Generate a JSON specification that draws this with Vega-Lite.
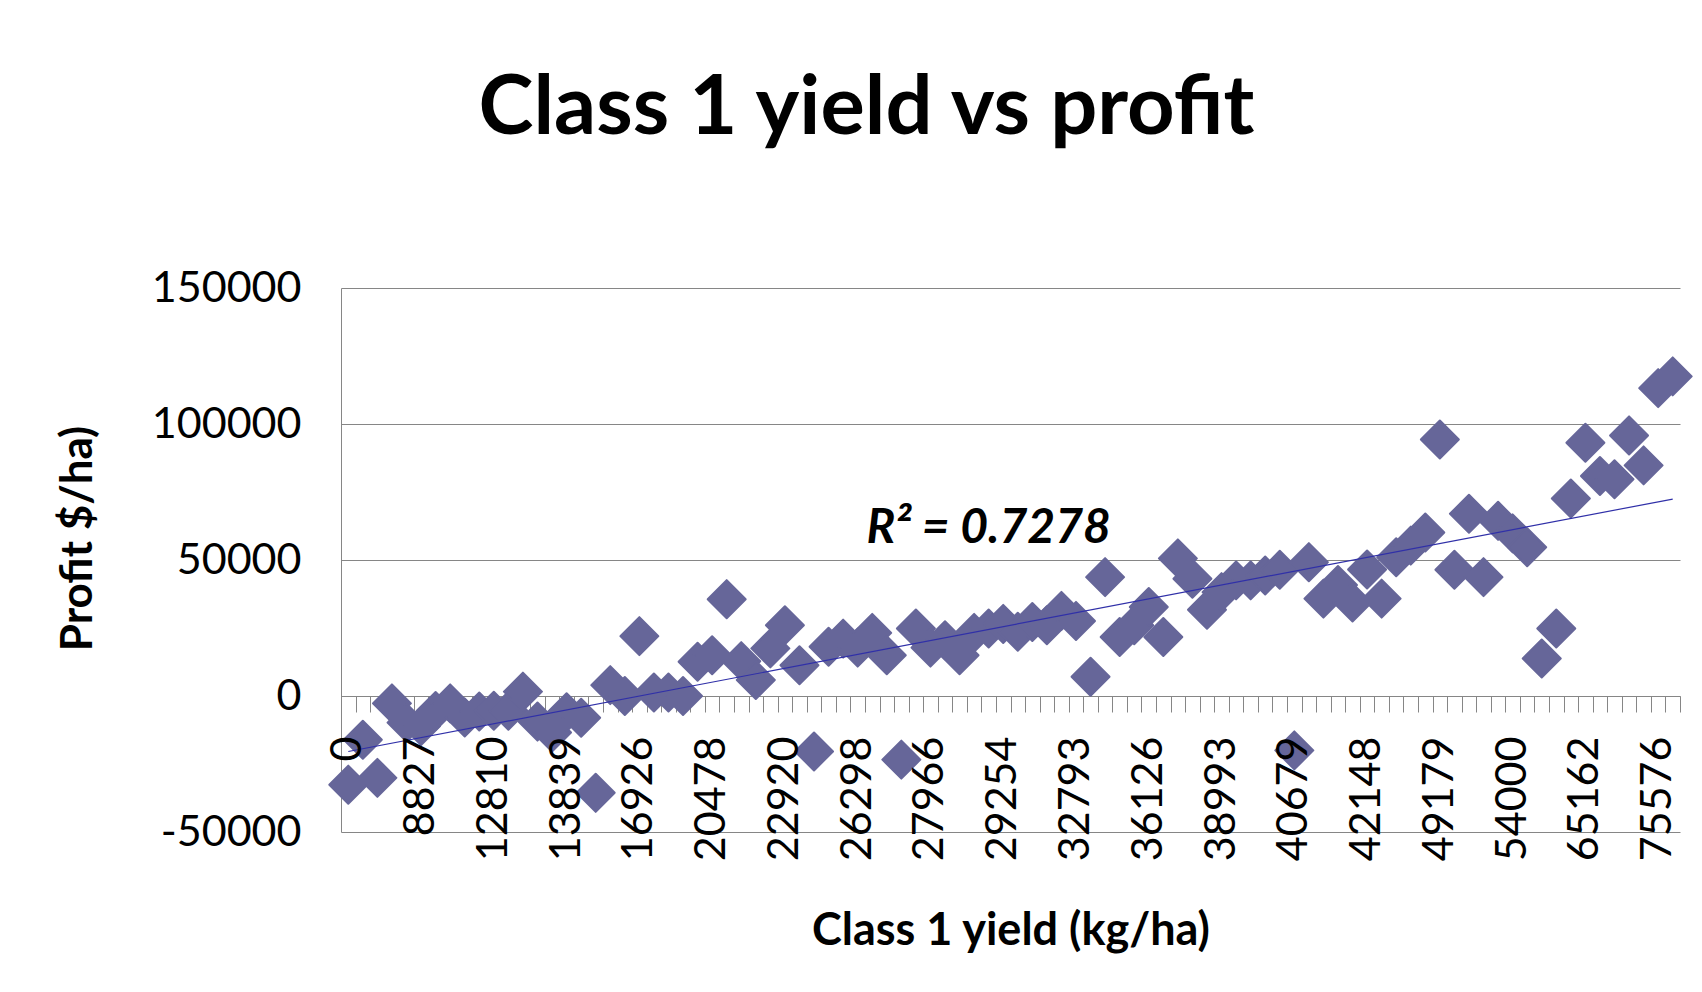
{
  "$schema": "https://vega.github.io/schema/vega-lite/v6.json",
  "width": 1339,
  "height": 544,
  "autosize": {"type": "none"},
  "padding": {"left": 341, "top": 288, "right": 22, "bottom": 160},
  "background": "white",
  "config": {"view": {"stroke": null}, "font": "Lato"},
  "title": {
    "text": "Class 1 yield vs profit",
    "font": "Lato",
    "fontSize": 83,
    "fontWeight": "bold",
    "color": "black",
    "anchor": "middle",
    "frame": "group",
    "dx": -144,
    "baseline": "alphabetic",
    "offset": 50
  },
  "datasets": {
    "points": [
      {"yield": 0, "profit": -32600},
      {"yield": 2150, "profit": -16100},
      {"yield": 3900, "profit": -30100},
      {"yield": 5600, "profit": -2700},
      {"yield": 7300, "profit": -9800},
      {"yield": 8827, "profit": -11000},
      {"yield": 9600, "profit": -5500},
      {"yield": 10450, "profit": -2700},
      {"yield": 11200, "profit": -7900},
      {"yield": 12050, "profit": -5700},
      {"yield": 12810, "profit": -5400},
      {"yield": 13010, "profit": -5400},
      {"yield": 13240, "profit": 1600},
      {"yield": 13450, "profit": -9400},
      {"yield": 13660, "profit": -13400},
      {"yield": 13839, "profit": -6000},
      {"yield": 14400, "profit": -8000},
      {"yield": 15050, "profit": -35600},
      {"yield": 15700, "profit": 4000},
      {"yield": 16300, "profit": 0},
      {"yield": 16926, "profit": 22000},
      {"yield": 17580, "profit": 1300},
      {"yield": 18240, "profit": 1300},
      {"yield": 19000, "profit": 0},
      {"yield": 19720, "profit": 12600},
      {"yield": 20478, "profit": 15000},
      {"yield": 21010, "profit": 35600},
      {"yield": 21500, "profit": 12800},
      {"yield": 22000, "profit": 5900},
      {"yield": 22450, "profit": 17500},
      {"yield": 22920, "profit": 26000},
      {"yield": 23560, "profit": 11300},
      {"yield": 24300, "profit": -20400},
      {"yield": 24950, "profit": 18100},
      {"yield": 25620, "profit": 21100},
      {"yield": 26298, "profit": 17800},
      {"yield": 26640, "profit": 23200},
      {"yield": 26970, "profit": 15000},
      {"yield": 27310, "profit": -23400},
      {"yield": 27640, "profit": 24800},
      {"yield": 27966, "profit": 17800},
      {"yield": 28230, "profit": 20500},
      {"yield": 28490, "profit": 15000},
      {"yield": 28750, "profit": 23200},
      {"yield": 29000, "profit": 24800},
      {"yield": 29254, "profit": 26500},
      {"yield": 29950, "profit": 23600},
      {"yield": 30660, "profit": 27200},
      {"yield": 31370, "profit": 26000},
      {"yield": 32080, "profit": 31300},
      {"yield": 32793, "profit": 27600},
      {"yield": 33460, "profit": 7100},
      {"yield": 34130, "profit": 43700},
      {"yield": 34790, "profit": 21700},
      {"yield": 35460, "profit": 26000},
      {"yield": 36126, "profit": 32700},
      {"yield": 36700, "profit": 21700},
      {"yield": 37270, "profit": 50600},
      {"yield": 37850, "profit": 43100},
      {"yield": 38420, "profit": 31700},
      {"yield": 38993, "profit": 38200},
      {"yield": 39330, "profit": 42500},
      {"yield": 39660, "profit": 42500},
      {"yield": 40000, "profit": 44300},
      {"yield": 40340, "profit": 46400},
      {"yield": 40679, "profit": -20000},
      {"yield": 40970, "profit": 49200},
      {"yield": 41260, "profit": 35800},
      {"yield": 41560, "profit": 40800},
      {"yield": 41850, "profit": 34400},
      {"yield": 42148, "profit": 46500},
      {"yield": 43550, "profit": 35800},
      {"yield": 44960, "profit": 51000},
      {"yield": 46370, "profit": 55300},
      {"yield": 47770, "profit": 60100},
      {"yield": 49179, "profit": 94300},
      {"yield": 50140, "profit": 46400},
      {"yield": 51100, "profit": 67000},
      {"yield": 52060, "profit": 43700},
      {"yield": 53030, "profit": 64400},
      {"yield": 54000, "profit": 59800},
      {"yield": 56230, "profit": 54700},
      {"yield": 58460, "profit": 13800},
      {"yield": 60700, "profit": 24800},
      {"yield": 62930, "profit": 72600},
      {"yield": 65162, "profit": 93100},
      {"yield": 67250, "profit": 80900},
      {"yield": 69330, "profit": 79700},
      {"yield": 71410, "profit": 95800},
      {"yield": 73490, "profit": 84800},
      {"yield": 75576, "profit": 113200},
      {"yield": 78210, "profit": 117500}
    ],
    "trend": [
      {"yield": 0, "profit": -20400},
      {"yield": 78210, "profit": 72400}
    ],
    "note": [
      {"yield": 29000, "profit": 61300, "label": "R² = 0.7278"}
    ]
  },
  "layer": [
    {
      "data": {"name": "points"},
      "mark": {"type": "point", "shape": "diamond", "filled": true, "size": 1444, "color": "#666699", "stroke": "#666699", "strokeWidth": 2, "strokeJoin": "round", "opacity": 1},
      "encoding": {
        "x": {
          "field": "yield", "type": "ordinal", "sort": "ascending",
          "scale": {"type": "band", "paddingInner": 0, "paddingOuter": 0},
          "axis": {
            "title": null, "labels": false, "grid": false,
            "ticks": true, "tickBand": "extent", "tickSize": 16, "tickColor": "#868686", "tickWidth": 1,
            "domain": true, "domainColor": "#868686", "domainWidth": 1,
            "offset": -136, "orient": "bottom", "zindex": 0
          }
        },
        "y": {
          "field": "profit", "type": "quantitative",
          "scale": {"domain": [-50000, 150000], "nice": false, "zero": false},
          "axis": {
            "values": [-50000, 0, 50000, 100000, 150000],
            "format": "d",
            "labelExpr": "replace(datum.label, '−', '-')",
            "grid": true, "gridColor": "#868686", "gridWidth": 1,
            "domain": true, "domainColor": "#868686", "domainWidth": 1,
            "ticks": false,
            "labelFont": "Lato", "labelFontSize": 43, "labelColor": "black", "labelPadding": 40,
            "title": "Profit $/ha)",
            "titleFont": "Lato", "titleFontSize": 44, "titleFontWeight": "bold", "titleColor": "black",
            "titleAngle": 270, "titleX": -263, "titleY": 250, "titleBaseline": "middle", "titleAlign": "center"
          }
        }
      }
    },
    {
      "data": {"name": "trend"},
      "mark": {"type": "line", "color": "#3030a8", "strokeWidth": 1.2},
      "encoding": {
        "x": {
          "field": "yield", "type": "ordinal", "sort": "ascending",
          "axis": {
            "values": [0, 8827, 12810, 13839, 16926, 20478, 22920, 26298, 27966, 29254, 32793, 36126, 38993, 40679, 42148, 49179, 54000, 65162, 75576],
            "ticks": false, "tickSize": 0, "domain": false, "grid": false,
            "labelAngle": 270, "labelAlign": "right", "labelBaseline": "middle",
            "labelFont": "Lato", "labelFontSize": 43, "labelColor": "black", "labelPadding": 40,
            "labelOverlap": false,
            "offset": -136, "orient": "bottom", "zindex": 1,
            "title": "Class 1 yield (kg/ha)",
            "titleFont": "Lato", "titleFontSize": 45, "titleFontWeight": "bold", "titleColor": "black",
            "titleX": 669.5, "titleY": 234, "titleBaseline": "middle", "titleAlign": "center"
          }
        },
        "y": {"field": "profit", "type": "quantitative"}
      }
    },
    {
      "data": {"name": "note"},
      "mark": {"type": "text", "font": "Lato", "fontSize": 48, "fontWeight": "bold", "fontStyle": "italic", "color": "black", "align": "center", "baseline": "middle"},
      "encoding": {
        "x": {"field": "yield", "type": "ordinal", "sort": "ascending", "axis": null},
        "y": {"field": "profit", "type": "quantitative"},
        "text": {"field": "label"}
      }
    }
  ],
  "resolve": {"axis": {"x": "independent"}}
}
